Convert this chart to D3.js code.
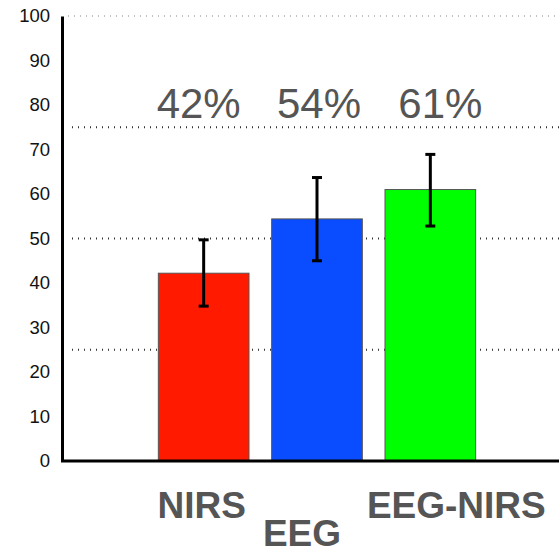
<!DOCTYPE html>
<html>
<head>
<meta charset="utf-8">
<script src="https://cdn.jsdelivr.net/npm/d3@7"></script>
<style>
  body { margin: 0; background: #fff; }
  svg { display: block; font-family: "Liberation Sans", Arial, sans-serif; }
</style>
</head>
<body>
<div id="container"></div>
<script>
// data
const categories = ["NIRS", "EEG", "EEG-NIRS"];
const means = [42.2, 54.4, 61.0];
const errLow = [34.8, 45.0, 52.8];
const errHigh = [49.7, 63.7, 68.9];
const pctLabels = ["42%", "54%", "61%"];
const barColors = ["#ff1a00", "#0a4cff", "#00ff00"];
const yTicks = [0, 10, 20, 30, 40, 50, 60, 70, 80, 90, 100];
const gridValues = [25, 50, 75, 100];

// label placement (not data) - the category names are staggered in the original
const catLabelDx = [-2, -15, 26];
const catLabelY = [518, 546, 518];
const pctLabelDx = [-5, 2, 10];

const width = 559, height = 554;

const svg = d3.select("#container")
  .append("svg")
  .attr("width", width)
  .attr("height", height);

const y = d3.scaleLinear().domain([0, 100]).range([461, 16]);
const x = d3.scaleBand()
  .domain(categories)
  .range([147, 487])
  .paddingInner(0.2)
  .paddingOuter(0.1);

// dotted gridlines
svg.selectAll(".grid")
  .data(gridValues)
  .join("line")
  .attr("class", "grid")
  .attr("x1", d => d === 100 ? 68 : 72)
  .attr("x2", width)
  .attr("y1", d => y(d))
  .attr("y2", d => y(d))
  .attr("stroke", d => d === 100 ? "#aaa" : "#333")
  .attr("stroke-width", d => d === 100 ? 1.5 : 2)
  .attr("stroke-dasharray", "1,5");

// bars
svg.selectAll(".bar")
  .data(categories)
  .join("rect")
  .attr("class", "bar")
  .attr("x", d => x(d))
  .attr("y", (d, i) => y(means[i]))
  .attr("width", x.bandwidth())
  .attr("height", (d, i) => y(0) - y(means[i]))
  .attr("fill", (d, i) => barColors[i])
  .attr("stroke", "#555")
  .attr("stroke-width", 1);

// error bars
const eb = svg.selectAll(".err")
  .data(categories)
  .join("g")
  .attr("class", "err")
  .attr("transform", d => `translate(${x(d) + x.bandwidth() / 2},0)`);

eb.append("line")
  .attr("y1", (d, i) => y(errLow[i]))
  .attr("y2", (d, i) => y(errHigh[i]))
  .attr("stroke", "#000")
  .attr("stroke-width", 3);

eb.append("line")
  .attr("x1", -5).attr("x2", 5)
  .attr("y1", (d, i) => y(errHigh[i]))
  .attr("y2", (d, i) => y(errHigh[i]))
  .attr("stroke", "#000")
  .attr("stroke-width", 3);

eb.append("line")
  .attr("x1", -5).attr("x2", 5)
  .attr("y1", (d, i) => y(errLow[i]))
  .attr("y2", (d, i) => y(errLow[i]))
  .attr("stroke", "#000")
  .attr("stroke-width", 3);

// y axis
const yAxis = svg.append("g")
  .attr("transform", "translate(62,0)")
  .call(d3.axisLeft(y).tickValues(yTicks).tickSize(0).tickPadding(12));

yAxis.select(".domain")
  .attr("stroke", "#000")
  .attr("stroke-width", 3);

yAxis.selectAll("text")
  .attr("font-size", "18.5px")
  .attr("font-family", "'Liberation Sans', Arial, sans-serif")
  .attr("fill", "#111");

// x axis line
svg.append("line")
  .attr("x1", 61)
  .attr("x2", width)
  .attr("y1", y(0))
  .attr("y2", y(0))
  .attr("stroke", "#000")
  .attr("stroke-width", 3);

// percent labels above
svg.selectAll(".pct")
  .data(categories)
  .join("text")
  .attr("class", "pct")
  .attr("x", (d, i) => x(d) + x.bandwidth() / 2 + pctLabelDx[i])
  .attr("y", 118)
  .attr("text-anchor", "middle")
  .attr("font-size", "42px")
  .attr("fill", "#555")
  .text((d, i) => pctLabels[i]);

// category labels
svg.selectAll(".cat")
  .data(categories)
  .join("text")
  .attr("class", "cat")
  .attr("x", (d, i) => x(d) + x.bandwidth() / 2 + catLabelDx[i])
  .attr("y", (d, i) => catLabelY[i])
  .attr("text-anchor", "middle")
  .attr("font-size", "37px")
  .attr("font-weight", "bold")
  .attr("fill", "#555")
  .text(d => d);
</script>
</body>
</html>
